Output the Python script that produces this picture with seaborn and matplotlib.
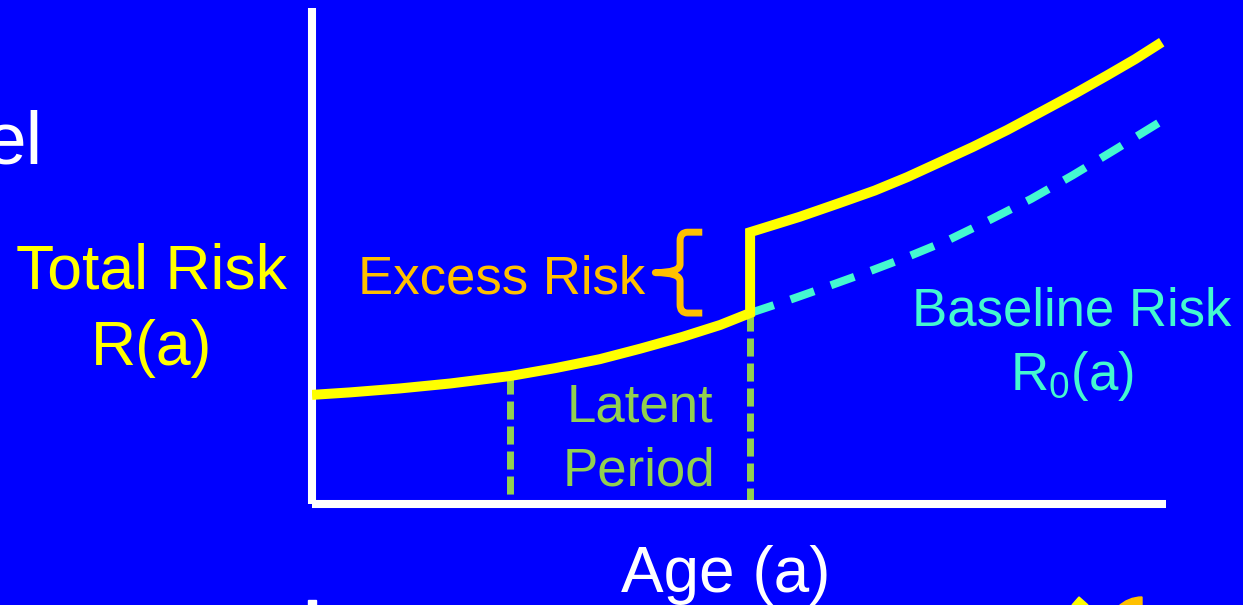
import numpy as np
import pandas as pd
import matplotlib
matplotlib.use('Agg')
import matplotlib.pyplot as plt
import matplotlib.transforms as mtransforms
import seaborn as sns
from matplotlib.path import Path
from matplotlib.patches import PathPatch, Rectangle, Polygon, Wedge

# ============================================================
# DATA  (arbitrary age / risk units)
# ============================================================

# total risk before the latent period ends
age_pre   = [0.0, 4.45, 10.3, 16.2, 23.2, 28.5, 33.7, 38.4, 43.4, 47.8, 51.3]
risk_pre  = [22.0, 22.5, 23.3, 24.3, 25.8, 27.4, 29.2, 31.3, 33.7, 36.1, 38.5]

# total risk after the latent period (jump up by the excess risk)
age_post  = [51.3, 57.1, 61.8, 65.9, 69.7, 73.5, 77.4, 81.4, 85.2, 89.3, 93.1, 96.4, 99.5]
risk_post = [54.8, 57.9, 60.7, 63.2, 65.9, 68.9, 72.0, 75.4, 78.9, 82.7, 86.4, 89.7, 93.1]

# baseline risk R0(a), dashed
age_base  = [51.3, 55.5, 59.8, 64.8, 69.7, 74.5, 79.4, 84.2, 89.1, 94.0, 99.1]
risk_base = [38.5, 40.9, 43.5, 46.6, 49.8, 53.2, 57.3, 61.5, 66.3, 71.4, 76.8]

# latent period: exposure age and end of latency
latent_ages = [23.2, 51.3]
latent_tops = [25.8, 38.5]

BLUE   = '#0000FF'
YELLOW = '#FFFF00'
ORANGE = '#FFC000'
CYAN   = '#44F8D0'
GREEN  = '#92D050'

# ============================================================
# STYLE
# ============================================================

sns.set_theme(style='white', rc={
    'axes.facecolor': BLUE,
    'figure.facecolor': BLUE,
    'axes.edgecolor': 'white',
})
plt.rcParams['font.family'] = ['Liberation Sans', 'DejaVu Sans']
plt.rcParams['mathtext.default'] = 'regular'

W, H = 1243, 605
fig = plt.figure(figsize=(W / 100, H / 100), dpi=100)
ax = fig.add_axes([312 / W, 1 - 504 / H, (1166 - 312) / W, (504 - 8) / H])

# ============================================================
# CURVES
# ============================================================

total = pd.DataFrame({
    'age':  age_pre + age_post,
    'risk': risk_pre + risk_post,
})
base = pd.DataFrame({'age': age_base, 'risk': risk_base})

# latent period guides (dash pattern starts at the curve)
ax.vlines(latent_ages, ymin=latent_tops, ymax=[0, 0], colors=GREEN,
          linewidth=5, linestyles=[(0, (2.6, 1.0))], zorder=2)

sns.lineplot(data=base, x='age', y='risk', ax=ax, estimator=None, sort=False,
             color=CYAN, linewidth=5.8, linestyle=(0, (3.1, 2.2)),
             dash_capstyle='butt', zorder=3)

sns.lineplot(data=total, x='age', y='risk', ax=ax, estimator=None, sort=False,
             color=YELLOW, linewidth=7.2, solid_capstyle='butt',
             solid_joinstyle='miter', zorder=4)

# excess risk brace, spanning the jump
jump = age_post[0]
top, bot = risk_post[0], risk_pre[-1]
mid = (top + bot) / 2
xr, xs, xt = jump - 5.6, jump - 8.2, jump - 11.1
r, dx = 1.7, 0.9
verts = [
    (xr, top), (xs + dx, top),
    (xs, top), (xs, top - r),
    (xs, mid + r),
    (xs, mid), (xt, mid),
    (xs, mid), (xs, mid - r),
    (xs, bot + r),
    (xs, bot), (xs + dx, bot),
    (xr, bot),
]
codes = [Path.MOVETO, Path.LINETO,
         Path.CURVE3, Path.CURVE3,
         Path.LINETO,
         Path.CURVE3, Path.CURVE3,
         Path.CURVE3, Path.CURVE3,
         Path.LINETO,
         Path.CURVE3, Path.CURVE3,
         Path.LINETO]
ax.add_patch(PathPatch(Path(verts, codes), facecolor='none', edgecolor=ORANGE,
                       linewidth=5, capstyle='butt', joinstyle='round', zorder=5))

ax.set_xlim(0, 100)
ax.set_ylim(0, 100)
ax.set_xticks([])
ax.set_yticks([])
ax.set_xlabel('')
ax.set_ylabel('')
for side in ['top', 'right']:
    ax.spines[side].set_visible(False)
for side in ['left', 'bottom']:
    ax.spines[side].set_linewidth(5.8)
    ax.spines[side].set_color('white')
    ax.spines[side].set_capstyle('butt')

# ============================================================
# TEXT
# ============================================================

def ftext(x, y, s, **kw):
    fig.text(x / W, 1 - y / H, s, va='baseline', **kw)

ftext(43, 163, 'el', color='white', fontsize=54, ha='right')
ftext(151, 288, 'Total Risk', color=YELLOW, fontsize=45, ha='center')
ftext(152, 365, 'R(a)', color=YELLOW, fontsize=45, ha='center')
ftext(358, 293, 'Excess Risk', color=ORANGE, fontsize=38, ha='left')
ftext(640, 422, 'Latent', color=GREEN, fontsize=38, ha='center')
ftext(639, 485, 'Period', color=GREEN, fontsize=38, ha='center')
ftext(1072, 325, 'Baseline Risk', color=CYAN, fontsize=38, ha='center')
ftext(1072, 390, 'R$_0$(a)', color=CYAN, fontsize=38, ha='center')
ftext(726, 592, 'Age (a)', color='white', fontsize=46, ha='center')

# cut-off pieces of the next slide element at the bottom edge (pixel units)
px = mtransforms.IdentityTransform()
fig.add_artist(Rectangle((308, 0), 8, 5, transform=px, color='white'))
fig.add_artist(Polygon([(1072, 0), (1079, 8), (1088, 0)], closed=True,
                       transform=px, color=YELLOW))
fig.add_artist(Wedge((1142, -26), 34, 90, 180, width=9, transform=px,
                     color=ORANGE))

fig.savefig('out.png', dpi=100, facecolor=BLUE)
